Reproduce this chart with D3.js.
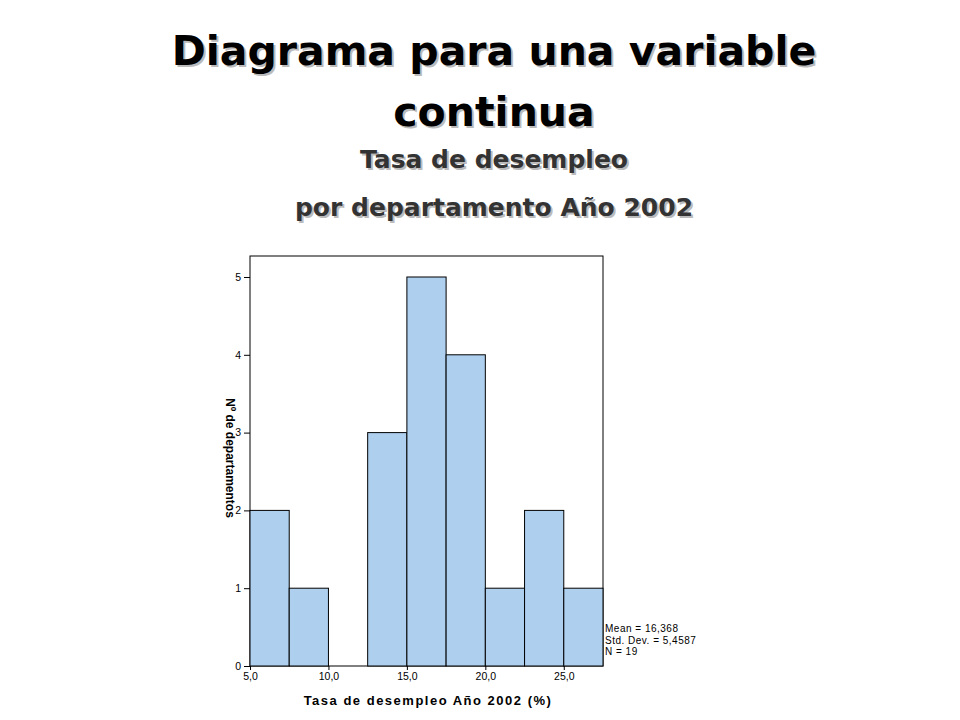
<!DOCTYPE html>
<html><head><meta charset="utf-8">
<script src="https://cdn.jsdelivr.net/npm/d3@7"></script>
<style>body{margin:0;background:#fff}.t{text-shadow:2px 2px 0 #bbb}</style></head>
<body><script>
const binStarts=[5,7.5,10,12.5,15,17.5,20,22.5,25];
const counts=[2,1,0,3,5,4,1,2,1];
const binWidth=2.5;
const xTicks=[5,10,15,20,25];
const yTicks=[0,1,2,3,4,5];
const stats=["Mean = 16,368","Std. Dev. = 5,4587","N = 19"];

const svg=d3.select("body").append("svg").attr("width",960).attr("height",720);
const f="'DejaVu Sans',Verdana,sans-serif";
const titles=[["Diagrama para una variable",65,41,"#000"],["continua",126,41,"#000"],["Tasa de desempleo",168,25,"#333"],["por departamento Año 2002",216,25,"#333"]];
titles.forEach(([t,yy,s,c])=>{
 svg.append("text").attr("class","t").attr("x",494).attr("y",yy).attr("text-anchor","middle").attr("font-family",f).attr("font-size",s).attr("font-weight","bold").attr("fill",c).text(t);
});
const x=d3.scaleLinear().domain([5,27.5]).range([250,603]);
const y=d3.scaleLinear().domain([0,5]).range([666,277]);
svg.append("rect").attr("x",250).attr("y",256).attr("width",353).attr("height",410).attr("fill","none").attr("stroke","#000");
svg.selectAll(".b").data(binStarts).enter().append("rect")
 .attr("x",d=>x(d)).attr("width",d=>x(d+binWidth)-x(d))
 .attr("y",(d,i)=>y(counts[i])).attr("height",(d,i)=>y(0)-y(counts[i]))
 .attr("fill","#aecfee").attr("stroke","#000").attr("stroke-width",1)
 .attr("display",(d,i)=>counts[i]?null:"none");
const xa=svg.append("g").attr("transform","translate(0,666)").call(d3.axisBottom(x).tickValues(xTicks).tickSize(4).tickFormat(d=>d3.format(".1f")(d).replace(".",",")));
xa.select(".domain").remove();
xa.selectAll("text").attr("font-family","Arial,sans-serif").attr("font-size",10.5);
const ya=svg.append("g").attr("transform","translate(250,0)").call(d3.axisLeft(y).tickValues(yTicks).tickSize(6).tickFormat(d3.format("d")));
ya.select(".domain").remove();
ya.selectAll("text").attr("font-family","Arial,sans-serif").attr("font-size",10.5);
svg.append("text").attr("x",428).attr("y",705).attr("text-anchor","middle").attr("font-family","Arial,sans-serif").attr("font-size",13).attr("font-weight","bold").attr("letter-spacing",1.5).text("Tasa de desempleo Año 2002 (%)");
svg.append("text").attr("transform","translate(226,458) rotate(90)").attr("text-anchor","middle").attr("font-family","Arial,sans-serif").attr("font-size",12).attr("font-weight","bold").text("Nº de departamentos");
stats.forEach((s,i)=>svg.append("text").attr("x",605).attr("y",632+i*11.5).attr("font-family","Arial,sans-serif").attr("font-size",10).attr("letter-spacing",0.5).text(s));
</script></body></html>
